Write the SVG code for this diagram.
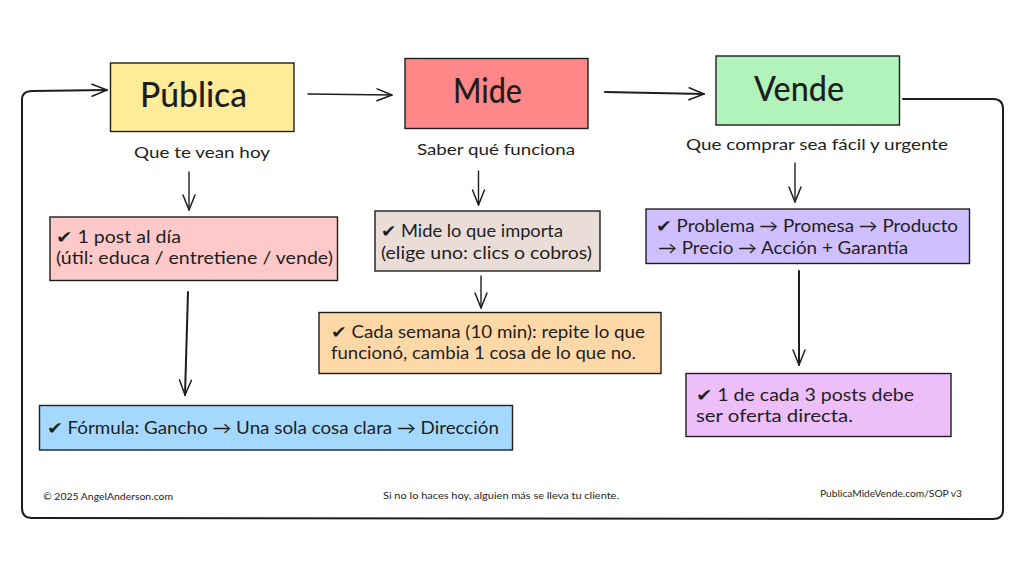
<svg xmlns="http://www.w3.org/2000/svg" width="1024" height="576" viewBox="0 0 1024 576">
<style>
text{font-family:"Lato","Noto Sans","DejaVu Sans",sans-serif;fill:#1e1e1e;white-space:pre}
.box{stroke:#1e1e1e;stroke-width:1.4}
.title{font-size:34px;font-weight:500}
.sub{font-size:16px}
.body{font-size:17px}
.foot{font-size:10px}
.c{fill:none;stroke:#1e1e1e;stroke-width:1.4;stroke-linecap:round;stroke-linejoin:round}
.t{stroke-width:2}
</style>
<defs>
<marker id="a" markerUnits="userSpaceOnUse" markerWidth="30" markerHeight="30" refX="20" refY="15" orient="auto" overflow="visible">
<path d="M5 9L20 15L5 21" fill="none" stroke="#1e1e1e" stroke-width="1.500" stroke-linecap="round" stroke-linejoin="round"/>
</marker>
</defs>
<rect width="1024" height="576" fill="#fff"/>
<g id="connectors">
<path class="c t" d="M903 99L993 99Q1003 99 1003 109L1003 510Q1003 519 993 519L32 518Q22 518 22 508L22 100Q22 91 32 91L107 90" marker-end="url(#a)"/>
<path class="c" d="M308 94L392 95" marker-end="url(#a)"/>
<path class="c t" d="M605 92L704 94" marker-end="url(#a)"/>
<path class="c" d="M189 172L189 210" marker-end="url(#a)"/>
<path class="c" d="M478.500 171L478.500 205" marker-end="url(#a)"/>
<path class="c" d="M795 163L795 202" marker-end="url(#a)"/>
<path class="c t" d="M188 292L185 395" marker-end="url(#a)"/>
<path class="c" d="M481 276L481 308" marker-end="url(#a)"/>
<path class="c t" d="M799 271L799 365" marker-end="url(#a)"/>
</g>
<g id="publica">
<rect class="box" x="110.500" y="63" width="183.500" height="68.500" fill="#ffec99"/>
<text class="title" x="140" y="107" textLength="107" lengthAdjust="spacingAndGlyphs">Pública</text>
</g>
<g id="mide">
<rect class="box" x="405" y="58.500" width="183" height="70" fill="#ff8787"/>
<text class="title" x="453" y="103" textLength="69" lengthAdjust="spacingAndGlyphs">Mide</text>
</g>
<g id="vende">
<rect class="box" x="716" y="56" width="183.500" height="69" fill="#b2f2bb"/>
<text class="title" x="754" y="101" textLength="90" lengthAdjust="spacingAndGlyphs">Vende</text>
</g>
<g id="sub-publica"><text class="sub" x="134" y="158" textLength="136" lengthAdjust="spacingAndGlyphs">Que te vean hoy</text></g>
<g id="sub-mide"><text class="sub" x="417" y="155" textLength="158" lengthAdjust="spacingAndGlyphs">Saber qué funciona</text></g>
<g id="sub-vende"><text class="sub" x="686" y="150" textLength="262" lengthAdjust="spacingAndGlyphs">Que comprar sea fácil y urgente</text></g>
<g id="post">
<rect class="box" x="50" y="217" width="287.500" height="63.500" fill="#ffc9c9"/>
<text class="body" x="56" y="243" textLength="125" lengthAdjust="spacingAndGlyphs">✔ 1 post al día</text>
<text class="body" x="56" y="264" textLength="277" lengthAdjust="spacingAndGlyphs">(útil: educa / entretiene / vende)</text>
</g>
<g id="importa">
<rect class="box" x="375" y="211" width="225" height="60" fill="#eaddd7"/>
<text class="body" x="381" y="237" textLength="182" lengthAdjust="spacingAndGlyphs">✔ Mide lo que importa</text>
<text class="body" x="381" y="259" textLength="211" lengthAdjust="spacingAndGlyphs">(elige uno: clics o cobros)</text>
</g>
<g id="semana">
<rect class="box" x="319" y="312.500" width="342" height="61" fill="#ffd8a8"/>
<text class="body" x="331" y="338" textLength="314" lengthAdjust="spacingAndGlyphs">✔ Cada semana (10 min): repite lo que</text>
<text class="body" x="331" y="359" textLength="305" lengthAdjust="spacingAndGlyphs">funcionó, cambia 1 cosa de lo que no.</text>
</g>
<g id="problema">
<rect class="box" x="646" y="209" width="323.500" height="54.500" fill="#d0bfff"/>
<text class="body" x="656" y="232" textLength="302" lengthAdjust="spacingAndGlyphs">✔ Problema → Promesa → Producto</text>
<text class="body" x="658" y="254" textLength="250" lengthAdjust="spacingAndGlyphs">→ Precio → Acción + Garantía</text>
</g>
<g id="formula">
<rect class="box" x="39.500" y="405.500" width="473" height="44.500" fill="#a5d8ff"/>
<text class="body" x="47" y="434" textLength="452" lengthAdjust="spacingAndGlyphs">✔ Fórmula: Gancho → Una sola cosa clara → Dirección</text>
</g>
<g id="oferta">
<rect class="box" x="686" y="373.500" width="265" height="63" fill="#eebefa"/>
<text class="body" x="696" y="401" textLength="218" lengthAdjust="spacingAndGlyphs">✔ 1 de cada 3 posts debe</text>
<text class="body" x="696" y="422" textLength="157" lengthAdjust="spacingAndGlyphs">ser oferta directa.</text>
</g>
<g id="footer">
<text class="foot" x="43" y="500" textLength="130" lengthAdjust="spacingAndGlyphs">© 2025 AngelAnderson.com</text>
<text class="foot" x="383" y="499" textLength="236" lengthAdjust="spacingAndGlyphs">Si no lo haces hoy, alguien más se lleva tu cliente.</text>
<text class="foot" x="820" y="497" textLength="142" lengthAdjust="spacingAndGlyphs">PublicaMideVende.com/SOP v3</text>
</g>
</svg>
